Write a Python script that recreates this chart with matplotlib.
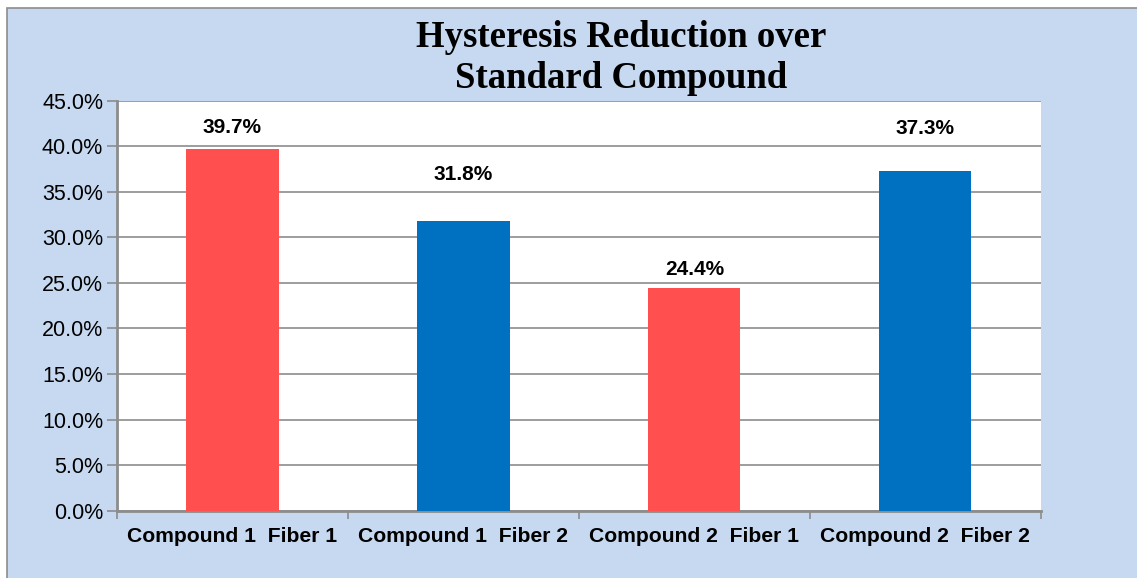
#!/usr/bin/env python3
import matplotlib
matplotlib.use("Agg")
import matplotlib.pyplot as plt
from matplotlib.patches import Rectangle
from matplotlib.ticker import FuncFormatter, MultipleLocator, FixedLocator, NullFormatter

# data
categories = ["Compound 1  Fiber 1", "Compound 1  Fiber 2",
              "Compound 2  Fiber 1", "Compound 2  Fiber 2"]
reduction = [39.7, 31.8, 24.4, 37.3]

# styling
bar_colors = ["#FF4F4F", "#0070C0", "#FF4F4F", "#0070C0"]
label_gap_px = [21, 46, 19, 42]   # Excel put the value labels at uneven heights
bg = "#C6D9F0"
grid_col = "#8C8C8C"

plt.rcParams['font.family'] = ['Liberation Sans', 'DejaVu Sans']

fig = plt.figure(figsize=(11.37, 5.78), dpi=100)
fig.patch.set_facecolor("white")
# chart area (cropped on right and bottom in the reference)
fig.patches.append(Rectangle((7 / 1137, -0.1), 1.2, 1 - 8 / 578 + 0.1,
                             transform=fig.transFigure, facecolor=bg,
                             edgecolor="#8C8C8C", linewidth=1.2, zorder=-5))

ax = fig.add_axes([117 / 1137, 1 - 510.7 / 578, (1040.7 - 117) / 1137, (510.7 - 100.7) / 578])
ax.set_facecolor("white")

x = list(range(len(categories)))
ax.bar(x, reduction, width=0.4, color=bar_colors, zorder=3)

for i, v in enumerate(reduction):
    ax.annotate(f"{v:.1f}%", (x[i], v), xytext=(0, label_gap_px[i]),
                textcoords="offset pixels", ha="center", va="center",
                fontsize=15, fontweight="bold", zorder=4)

ax.set_xlim(-0.5, len(categories) - 0.5)
ax.set_ylim(0, 45)
ax.yaxis.set_major_locator(MultipleLocator(5))
ax.yaxis.set_major_formatter(FuncFormatter(lambda v, p: f"{v:.1f}%"))
ax.grid(axis="y", color=grid_col, linewidth=1.2, zorder=1)
ax.set_axisbelow(True)

# category ticks sit on the boundaries, labels in the middle
ax.xaxis.set_major_locator(FixedLocator([i - 0.5 for i in range(len(categories) + 1)]))
ax.xaxis.set_major_formatter(NullFormatter())
ax.set_xticks(x, categories, minor=True)
ax.tick_params(axis="x", which="major", length=6, width=1.2, color=grid_col, direction="out")
ax.tick_params(axis="x", which="minor", length=0, pad=12, labelsize=15.2)
for lbl in ax.get_xticklabels(minor=True):
    lbl.set_fontweight("bold")
ax.tick_params(axis="y", length=7, width=1.2, color=grid_col, labelsize=15.5, pad=3)

for side in ["top", "right"]:
    ax.spines[side].set_visible(False)
for side in ["left", "bottom"]:
    ax.spines[side].set_color(grid_col)
    ax.spines[side].set_linewidth(2)

fig.text(621 / 1137, 1 - 58 / 578, "Hysteresis Reduction over\nStandard Compound",
         ha="center", va="center", fontsize=26.5, fontweight="bold",
         family=["Liberation Serif", "DejaVu Serif"], linespacing=1.25)

fig.savefig("out.png", dpi=100)
